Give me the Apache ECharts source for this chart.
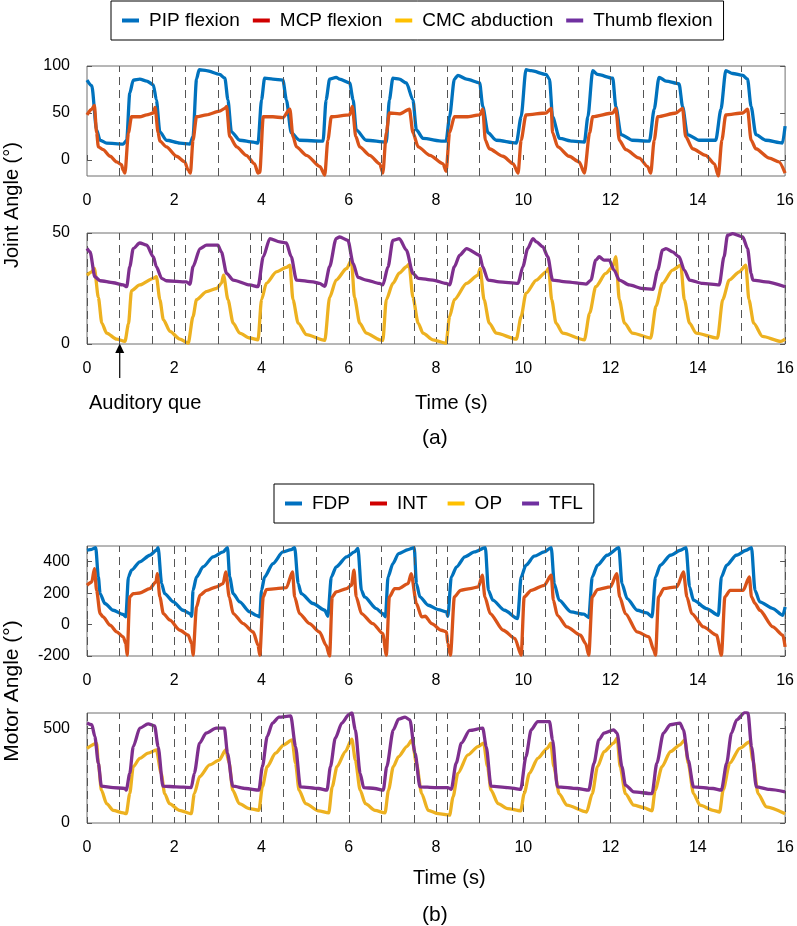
<!DOCTYPE html>
<html>
<head>
<meta charset="utf-8">
<script src="https://cdn.jsdelivr.net/npm/echarts@6/dist/echarts.min.js"></script>
<style>
    html, body { margin: 0; padding: 0; background: #fff; }
    #chart { width: 797px; height: 926px; }
</style>
</head>
<body>
<div id="chart"></div>
<script>
// time (s) of the auditory cues, drawn as dashed lines
const cueTimes = [0.75, 1.5, 2.25, 3.0, 3.75, 4.5, 5.25, 6.0, 6.75, 7.5, 8.25, 9.0, 9.75, 10.5, 11.25, 12.0, 12.75, 13.5, 14.25, 15.0];

// tick labels
const jointTicksTop = [0, 50, 100];
const jointTicksBottom = [0, 50];
const motorTicksTop = [-200, 0, 200, 400];
const motorTicksBottom = [0, 500];

// (a) joint angles, [time s, angle deg]
const pipFlexion = [[0,85],[0.11,79],[0.22,32],[0.3,21],[0.45,18],[0.83,17],[0.91,21],[0.98,71],[1.06,85],[1.21,86],[1.37,84],[1.52,80],[1.59,64],[1.67,30],[1.82,21],[2.13,18],[2.36,17],[2.43,25],[2.51,86],[2.57,96],[2.74,95],[3.04,91],[3.16,87],[3.23,64],[3.31,30],[3.5,21],[3.81,19],[3.92,18],[4.0,64],[4.07,87],[4.26,86],[4.49,85],[4.57,64],[4.68,29],[4.87,21],[5.41,20],[5.48,64],[5.56,86],[5.71,88],[5.79,86],[6.02,82],[6.1,64],[6.17,32],[6.4,21],[6.86,19],[6.93,64],[7.01,87],[7.16,86],[7.32,82],[7.47,64],[7.55,32],[7.7,23],[8.16,20],[8.23,20],[8.31,46],[8.42,86],[8.5,90],[8.7,86],[9.0,82],[9.07,57],[9.19,29],[9.38,21],[9.84,18],[9.95,46],[10.06,96],[10.18,95],[10.52,91],[10.6,86],[10.67,46],[10.83,23],[11.13,20],[11.4,19],[11.48,46],[11.59,95],[11.7,91],[12.05,87],[12.12,57],[12.24,27],[12.5,21],[12.89,20],[13.0,54],[13.11,88],[13.27,84],[13.57,81],[13.65,57],[13.76,27],[14.03,21],[14.41,21],[14.53,54],[14.64,95],[14.8,92],[15.03,90],[15.14,86],[15.22,57],[15.33,27],[15.56,21],[15.94,18],[16.0,36]];
const mcpFlexion = [[0,48],[0.11,54],[0.17,58],[0.22,29],[0.26,14],[0.37,11],[0.53,4],[0.68,-2],[0.79,-5],[0.83,-11],[0.87,-14],[0.95,29],[1.02,46],[1.21,46],[1.37,48],[1.52,50],[1.56,56],[1.63,29],[1.67,20],[1.82,14],[2.05,4],[2.24,-2],[2.32,-11],[2.37,-14],[2.43,21],[2.51,46],[2.74,48],[3.04,52],[3.16,55],[3.2,57],[3.27,25],[3.43,14],[3.65,5],[3.84,-4],[3.92,-14],[3.96,-13],[4.04,46],[4.26,46],[4.49,45],[4.65,54],[4.72,25],[4.8,14],[5.03,5],[5.34,-7],[5.45,-16],[5.52,21],[5.6,46],[6.02,48],[6.08,57],[6.16,25],[6.25,14],[6.48,5],[6.71,-4],[6.78,-14],[6.86,29],[6.93,50],[7.16,49],[7.39,54],[7.47,29],[7.59,14],[7.86,5],[8.16,-4],[8.23,-12],[8.31,29],[8.42,46],[8.7,46],[9.0,48],[9.07,54],[9.13,21],[9.22,12],[9.53,4],[9.77,-4],[9.88,-14],[9.95,21],[10.06,48],[10.52,50],[10.64,55],[10.67,29],[10.79,14],[11.05,4],[11.28,-2],[11.4,-14],[11.52,29],[11.59,46],[12.05,50],[12.12,55],[12.2,21],[12.35,11],[12.66,2],[12.85,-7],[12.92,-14],[13.0,21],[13.08,46],[13.5,50],[13.65,55],[13.72,25],[13.88,12],[14.18,5],[14.38,-4],[14.47,-17],[14.55,21],[14.64,48],[15.03,50],[15.14,54],[15.22,21],[15.33,12],[15.64,2],[15.86,-2],[16.0,-14]];
const cmcAbduction = [[0,31],[0.11,32.5],[0.17,34],[0.26,21],[0.34,9.4],[0.45,4.9],[0.68,2.2],[0.87,1.2],[0.95,9],[1.02,24],[1.21,26.6],[1.52,29.6],[1.59,30.3],[1.67,20],[1.75,11],[1.9,5.7],[2.13,2.2],[2.32,0.4],[2.43,12.4],[2.51,20],[2.74,23.6],[2.97,25],[3.08,27.3],[3.13,31],[3.23,20],[3.35,9.4],[3.5,4.9],[3.73,2.7],[3.92,1.9],[4.0,20],[4.11,27.3],[4.34,32.5],[4.57,34.5],[4.65,35.5],[4.72,20],[4.84,9.4],[5.03,4.2],[5.45,1.6],[5.56,21],[5.71,28.8],[5.95,34],[6.06,37.8],[6.13,21],[6.25,9.4],[6.4,4.9],[6.71,1.9],[6.78,1.6],[6.86,20],[7.01,27.3],[7.16,32],[7.32,34.8],[7.38,36],[7.47,21],[7.59,9.4],[7.7,4.9],[7.93,1.9],[8.23,0.4],[8.31,12.4],[8.42,20],[8.7,27.3],[8.96,31],[9.01,34],[9.1,20],[9.22,9.4],[9.38,4.9],[9.84,2.2],[9.95,12.4],[10.06,22.8],[10.3,28.8],[10.52,32.5],[10.58,34],[10.65,20],[10.75,9.4],[10.9,4.9],[11.4,1.9],[11.52,13.9],[11.66,25.8],[11.89,31.8],[12.05,34.8],[12.12,39.3],[12.2,20],[12.32,9.4],[12.5,4.9],[12.92,2.7],[13.04,17],[13.19,27.3],[13.42,33.3],[13.61,35.5],[13.69,20],[13.81,9.4],[13.96,4.9],[14.45,2.7],[14.57,20],[14.72,28.8],[14.95,32.5],[15.1,35.5],[15.17,20],[15.28,9.4],[15.48,3.4],[15.9,1.2],[16.0,2.2]];
const thumbFlexion = [[0,43],[0.07,41.5],[0.18,30.3],[0.3,28.5],[0.6,27.6],[0.83,26.6],[0.91,25.8],[0.98,34.8],[1.06,43],[1.21,45.5],[1.37,44.5],[1.52,39.3],[1.59,34.8],[1.71,29.6],[1.82,28.5],[2.28,28],[2.36,26.9],[2.43,34.8],[2.59,43],[2.74,44.5],[3.0,44.5],[3.08,41.5],[3.2,31.8],[3.35,28.8],[3.73,26.6],[3.92,25.8],[4.04,39.3],[4.19,47.5],[4.42,46],[4.57,45.5],[4.68,39.3],[4.8,28.8],[5.18,28],[5.33,27.3],[5.45,26],[5.56,34.8],[5.71,47.5],[5.79,48.2],[5.98,46.7],[6.1,36.3],[6.21,30],[6.4,28.8],[6.7,27.3],[6.78,26.6],[6.9,34.8],[7.01,46.7],[7.16,47.5],[7.32,42.3],[7.47,31.8],[7.59,29.6],[7.93,28.8],[8.23,27.3],[8.31,26.6],[8.42,34.8],[8.54,40],[8.7,43],[9.0,40],[9.07,34.8],[9.19,28.8],[9.45,28],[9.88,27.3],[9.99,34.8],[10.1,43],[10.22,47.5],[10.3,46],[10.45,43.7],[10.56,39.3],[10.67,28.8],[10.98,28],[11.44,27],[11.55,28.8],[11.66,37.8],[11.74,39.3],[11.85,37.8],[11.97,37.8],[12.08,33.3],[12.2,28.8],[12.43,26.6],[12.73,25],[12.97,24.6],[13.08,33.3],[13.19,42.3],[13.27,43],[13.42,41.5],[13.57,39.3],[13.69,33.3],[13.81,28.8],[14.11,27.3],[14.49,26.6],[14.6,39.3],[14.68,49],[14.8,49.7],[15.03,48.2],[15.14,43],[15.22,31.8],[15.26,28.8],[15.56,28],[16.0,25.8]];

// (b) motor angles, [time s, angle deg]
const fdpMotor = [[0,473],[0.11,479],[0.2,490],[0.26,303],[0.3,197],[0.41,134],[0.6,91],[0.83,64],[0.89,49],[0.95,303],[1.02,346],[1.21,399],[1.44,441],[1.59,473],[1.63,490],[1.71,261],[1.78,197],[1.98,144],[2.2,91],[2.36,70],[2.4,53],[2.43,218],[2.51,303],[2.66,367],[2.89,431],[3.12,462],[3.22,490],[3.27,303],[3.35,197],[3.5,144],[3.73,81],[3.88,59],[3.96,49],[4.0,218],[4.07,303],[4.26,388],[4.49,462],[4.68,477],[4.76,490],[4.84,261],[4.91,197],[5.18,134],[5.45,91],[5.52,53],[5.6,303],[5.71,367],[5.95,431],[6.13,462],[6.21,484],[6.29,218],[6.36,176],[6.63,102],[6.78,70],[6.84,49],[6.9,303],[7.01,388],[7.14,452],[7.36,477],[7.5,490],[7.55,261],[7.63,176],[7.82,123],[8.05,95],[8.24,81],[8.27,53],[8.35,303],[8.47,367],[8.66,431],[8.88,462],[9.13,490],[9.2,218],[9.3,155],[9.57,91],[9.87,38],[9.95,303],[10.06,378],[10.25,435],[10.48,462],[10.64,490],[10.71,261],[10.82,155],[11.09,81],[11.39,66],[11.5,45],[11.58,303],[11.7,378],[11.92,441],[12.19,490],[12.26,261],[12.38,165],[12.61,91],[12.83,74],[12.95,49],[13.03,303],[13.14,378],[13.37,441],[13.6,473],[13.73,490],[13.81,240],[13.9,155],[14.2,102],[14.47,59],[14.54,303],[14.66,378],[14.88,441],[15.11,473],[15.23,490],[15.31,218],[15.42,144],[15.72,102],[15.95,59],[16.0,112]];
const intMotor = [[0,250],[0.11,271],[0.17,356],[0.22,218],[0.3,70],[0.37,49],[0.53,-4],[0.68,-47],[0.83,-78],[0.89,-121],[0.92,-195],[0.98,176],[1.06,197],[1.21,201],[1.44,229],[1.58,271],[1.61,324],[1.67,176],[1.75,70],[1.9,28],[2.13,-36],[2.32,-68],[2.4,-121],[2.43,-195],[2.51,112],[2.59,187],[2.74,218],[2.97,240],[3.12,261],[3.18,335],[3.26,176],[3.35,70],[3.58,6],[3.81,-47],[3.92,-131],[3.96,-195],[4.04,176],[4.11,223],[4.34,229],[4.57,235],[4.71,335],[4.76,176],[4.87,70],[5.1,6],[5.33,-47],[5.48,-131],[5.56,-201],[5.62,176],[5.71,208],[5.95,229],[6.06,250],[6.12,346],[6.17,176],[6.29,70],[6.55,6],[6.78,-57],[6.86,-195],[6.93,176],[7.05,229],[7.14,229],[7.36,261],[7.43,324],[7.55,134],[7.67,49],[7.75,53],[7.9,6],[8.12,-36],[8.24,-47],[8.27,-121],[8.33,-195],[8.42,176],[8.56,218],[8.78,229],[8.97,240],[9.06,314],[9.12,176],[9.24,70],[9.54,-36],[9.81,-89],[9.95,-195],[10.02,176],[10.18,218],[10.48,250],[10.64,314],[10.69,155],[10.78,59],[11.0,-15],[11.31,-68],[11.43,-121],[11.5,-195],[11.58,176],[11.7,223],[12.0,240],[12.14,324],[12.21,176],[12.34,70],[12.61,-47],[12.88,-78],[12.99,-163],[13.03,-195],[13.1,176],[13.22,229],[13.52,240],[13.67,335],[13.75,176],[13.86,70],[14.13,-15],[14.43,-68],[14.54,-195],[14.62,176],[14.74,218],[15.04,218],[15.18,303],[15.23,176],[15.31,134],[15.42,91],[15.72,-15],[15.95,-68],[16.0,-142]];
const opMotor = [[0,394],[0.22,420],[0.26,315],[0.33,173],[0.45,102],[0.6,67],[0.83,53],[0.9,49],[0.98,155],[1.06,297],[1.21,341],[1.4,368],[1.59,385],[1.7,262],[1.78,155],[1.89,102],[2.12,67],[2.39,49],[2.46,155],[2.58,244],[2.81,306],[3.03,332],[3.18,385],[3.26,315],[3.34,173],[3.49,102],[3.72,76],[3.94,67],[4.02,191],[4.13,297],[4.32,368],[4.51,412],[4.7,438],[4.78,315],[4.86,173],[5.01,102],[5.31,64],[5.54,53],[5.62,191],[5.73,297],[5.92,376],[6.07,442],[6.15,332],[6.26,173],[6.38,102],[6.6,67],[6.83,53],[6.91,173],[7.02,297],[7.14,350],[7.33,403],[7.45,438],[7.55,315],[7.67,155],[7.82,67],[8.05,49],[8.31,41],[8.39,138],[8.5,262],[8.73,359],[8.96,403],[9.09,421],[9.18,297],[9.26,173],[9.42,102],[9.64,76],[9.94,64],[10.02,155],[10.14,262],[10.33,341],[10.55,394],[10.63,421],[10.7,297],[10.82,155],[11.0,94],[11.45,58],[11.58,155],[11.7,297],[11.85,376],[12.07,421],[12.15,447],[12.22,297],[12.34,155],[12.53,94],[12.76,81],[12.95,64],[13.02,173],[13.18,297],[13.37,376],[13.59,412],[13.7,438],[13.78,315],[13.9,155],[14.05,94],[14.35,67],[14.5,58],[14.58,173],[14.73,315],[14.96,394],[15.19,429],[15.26,332],[15.38,155],[15.57,85],[16.0,49]];
const tflMotor = [[0,527],[0.11,518],[0.18,456],[0.26,315],[0.33,194],[0.6,187],[0.87,182],[0.9,173],[0.98,262],[1.06,403],[1.21,500],[1.4,523],[1.55,512],[1.63,403],[1.74,194],[2.04,191],[2.39,187],[2.46,262],[2.58,421],[2.73,474],[2.96,500],[3.15,500],[3.22,368],[3.34,194],[3.64,182],[3.94,173],[4.02,297],[4.13,456],[4.25,527],[4.4,558],[4.67,565],[4.78,403],[4.89,191],[5.31,182],[5.5,173],[5.58,297],[5.69,447],[5.84,527],[6.0,571],[6.07,580],[6.15,491],[6.26,262],[6.34,187],[6.6,182],[6.79,173],[6.87,297],[7.02,491],[7.14,548],[7.29,558],[7.4,544],[7.52,368],[7.63,191],[7.97,187],[8.27,187],[8.35,177],[8.46,315],[8.58,421],[8.77,488],[9.07,500],[9.15,403],[9.26,194],[9.64,187],[9.94,177],[10.06,350],[10.18,491],[10.33,535],[10.6,535],[10.67,438],[10.78,191],[11.24,182],[11.5,173],[11.62,315],[11.73,438],[11.85,474],[12.07,491],[12.15,474],[12.26,297],[12.34,200],[12.53,164],[12.95,155],[13.06,315],[13.21,474],[13.37,518],[13.59,527],[13.67,491],[13.78,332],[13.9,191],[14.35,182],[14.54,173],[14.66,315],[14.77,474],[14.89,544],[15.08,583],[15.15,580],[15.23,403],[15.34,191],[15.64,177],[16.0,164]];

const FONT = "'Liberation Sans', Arial, sans-serif";
const LINE_COLORS = { blue: "#0072BD", orange: "#D95319", yellow: "#EDB120", purple: "#7E2F8E" };
const DASH = [8, 5];

let chart = echarts.init(document.getElementById("chart"), null, { renderer: "canvas" });

// one entry per panel: grid box and y-axis setup
const panels = [
    { top: 66, height: 110, right: 11, min: -17, max: 100, ticks: jointTicksTop, gridLines: false },
    { top: 233, height: 111, right: 11, min: 0, max: 50, ticks: jointTicksBottom, gridLines: true },
    { top: 546, height: 110, right: 8, min: -200, max: 500, ticks: motorTicksTop, gridLines: true },
    { top: 713, height: 110, right: 8, min: 0, max: 580, ticks: motorTicksBottom, gridLines: true }
];

function dataSeries(name, data, color, panel) {
    return {
        name: name,
        type: "line",
        xAxisIndex: panel,
        yAxisIndex: panel * 2,
        data: data,
        showSymbol: false,
        smooth: 0.25,
        smoothMonotone: "x",
        z: 3,
        lineStyle: { color: color, width: 3.3 },
        itemStyle: { color: color }
    };
}

// dashed cue lines live on an empty series so they sit under the curves
function cueSeries(panel) {
    return {
        type: "line",
        name: "cues" + panel,
        xAxisIndex: panel,
        yAxisIndex: panel * 2,
        data: [],
        z: 1,
        silent: true,
        markLine: {
            silent: true,
            symbol: "none",
            label: { show: false },
            animation: false,
            lineStyle: { color: "#555", width: 1, type: DASH },
            data: cueTimes.map(t => ({ xAxis: t }))
        }
    };
}

const legendBase = {
    orient: "horizontal",
    icon: "rect",
    itemWidth: 17,
    itemHeight: 4,
    borderColor: "#000",
    borderWidth: 1,
    textStyle: { fontSize: 19, color: "#000", fontFamily: FONT, padding: [0, 0, 0, 5] }
};

// left axis with labels, right axis only for mirrored ticks
let yAxes = [];
panels.forEach((p, i) => {
    yAxes.push({
        type: "value",
        gridIndex: i,
        min: p.min, max: p.max,
        axisLine: { show: false },
        axisTick: { show: true, inside: true, length: 5, customValues: p.ticks, lineStyle: { color: "#555" } },
        axisLabel: { fontSize: 16, color: "#000", margin: 17, fontFamily: FONT, customValues: p.ticks },
        splitLine: { show: false }
    });
    yAxes.push({
        type: "value",
        gridIndex: i,
        position: "right",
        min: p.min, max: p.max,
        axisLine: { show: false },
        axisTick: { show: true, inside: true, length: 5, customValues: p.ticks, lineStyle: { color: "#555" } },
        axisLabel: { show: false },
        splitLine: { show: false }
    });
});

let option = {
    animation: false,
    backgroundColor: "#fff",
    textStyle: { fontFamily: FONT, color: "#000" },
    legend: [
        Object.assign({}, legendBase, {
            left: 111, top: 1, padding: [10, 11], itemGap: 13,
            data: [
                { name: "PIP flexion", itemStyle: { color: "#0070C0" } },
                { name: "MCP flexion", itemStyle: { color: "#D00000" } },
                { name: "CMC abduction", itemStyle: { color: "#FFC000" } },
                { name: "Thumb flexion", itemStyle: { color: "#7030A0" } }
            ]
        }),
        Object.assign({}, legendBase, {
            left: 274, top: 484, padding: [10, 11], itemGap: 20,
            data: [
                { name: "FDP", itemStyle: { color: "#0070C0" } },
                { name: "INT", itemStyle: { color: "#D00000" } },
                { name: "OP", itemStyle: { color: "#FFC000" } },
                { name: "TFL", itemStyle: { color: "#7030A0" } }
            ]
        })
    ],
    grid: panels.map(p => ({
        left: 87, right: p.right, top: p.top, height: p.height,
        show: true, borderColor: "#6f6f6f", borderWidth: 1, backgroundColor: "transparent"
    })),
    xAxis: panels.map((p, i) => ({
        type: "value",
        gridIndex: i,
        min: 0, max: 16, interval: 2,
        axisLine: { show: false },
        axisTick: { show: true, inside: true, length: 5, lineStyle: { color: "#555" } },
        axisLabel: { fontSize: 16, color: "#000", margin: 17, fontFamily: FONT },
        splitLine: { show: p.gridLines, lineStyle: { color: "#555", width: 1, type: DASH } }
    })),
    yAxis: yAxes,
    series: [
        cueSeries(0), cueSeries(1), cueSeries(2), cueSeries(3),
        dataSeries("PIP flexion", pipFlexion, LINE_COLORS.blue, 0),
        dataSeries("MCP flexion", mcpFlexion, LINE_COLORS.orange, 0),
        dataSeries("CMC abduction", cmcAbduction, LINE_COLORS.yellow, 1),
        dataSeries("Thumb flexion", thumbFlexion, LINE_COLORS.purple, 1),
        dataSeries("FDP", fdpMotor, LINE_COLORS.blue, 2),
        dataSeries("INT", intMotor, LINE_COLORS.orange, 2),
        dataSeries("OP", opMotor, LINE_COLORS.yellow, 3),
        dataSeries("TFL", tflMotor, LINE_COLORS.purple, 3)
    ]
};

chart.setOption(option);

// annotations: axis titles, panel captions and the cue arrow
let cueX = chart.convertToPixel({ xAxisIndex: 1 }, cueTimes[0]);
let axisBottom = panels[1].top + panels[1].height;

function label(text, x, y, size, rotate) {
    return {
        type: "text",
        x: x, y: y,
        rotation: rotate ? Math.PI / 2 : 0,
        style: { text: text, fill: "#000", font: size + "px " + FONT, align: rotate ? "center" : "left", verticalAlign: "middle" }
    };
}

chart.setOption({
    graphic: [
        label("Joint Angle (°)", 12, 205, 20, true),
        label("Motor Angle (°)", 12, 691, 21, true),
        label("Auditory que", 89, 403, 20),
        label("Time (s)", 415, 403, 20),
        label("(a)", 422, 438, 21),
        label("Time (s)", 413, 878, 20),
        label("(b)", 422, 915, 21),
        {
            type: "line",
            shape: { x1: cueX, y1: axisBottom + 34, x2: cueX, y2: axisBottom + 8 },
            style: { stroke: "#000", lineWidth: 1.2 }
        },
        {
            type: "polygon",
            shape: { points: [[cueX, axisBottom - 0.5], [cueX - 4.5, axisBottom + 9], [cueX + 4.5, axisBottom + 9]] },
            style: { fill: "#000" }
        }
    ]
});
</script>
</body>
</html>
